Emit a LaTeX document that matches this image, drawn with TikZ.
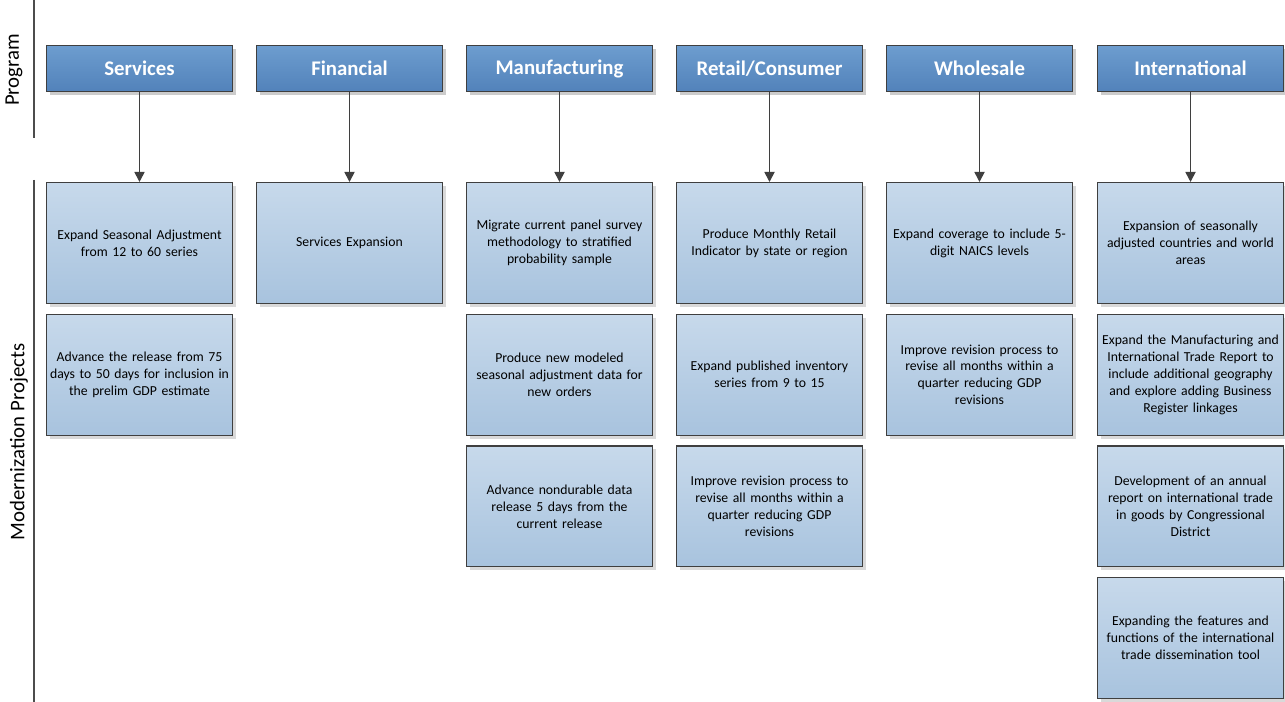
\documentclass[tikz,border=0pt]{standalone}
\usepackage{fontspec}
\setmainfont{Carlito}
\usetikzlibrary{positioning,arrows.meta,shadows}
\definecolor{hdtop}{HTML}{6D9DCF}
\definecolor{hdbot}{HTML}{5282BA}
\definecolor{pjtop}{HTML}{C7D9EB}
\definecolor{pjbot}{HTML}{A8C3DE}
\definecolor{edge}{HTML}{3F3F3F}
\tikzset{
  program/.style={draw=edge, line width=0.8pt, top color=hdtop, bottom color=hdbot,
    minimum width=139.5pt, minimum height=34.5pt, inner sep=0pt,
    text=white, font=\fontsize{15.6}{18}\selectfont\bfseries,
    drop shadow={shadow xshift=2.5pt, shadow yshift=-2.5pt, fill=black!20, opacity=1}},
  project/.style={draw=edge, line width=0.8pt, top color=pjtop, bottom color=pjbot,
    minimum width=139.5pt, minimum height=90.7pt, inner sep=0pt,
    text width=139pt, align=center, font=\fontsize{10.3}{12.7}\selectfont,
    drop shadow={shadow xshift=2.5pt, shadow yshift=-2.5pt, fill=black!15, opacity=1}},
  link/.style={draw=edge, line width=1.3pt, -{Triangle[length=7.5pt,width=7.5pt]}},
  lane/.style={draw=black!70, line width=0.8pt},
  lanelabel/.style={rotate=90, font=\fontsize{15.6}{18}\selectfont}
}
\begin{document}
\begin{tikzpicture}[x=0.75pt, y=-0.75pt, node distance=7.3pt]
  \useasboundingbox (0,0) rectangle (1285,702);
  % Lane separators
  \draw[lane] (34,0) -- (34,138);
  \draw[lane] (34,180) -- (34,702);
  \node[lanelabel] (lprog) at (14,70) {Program};
  \node[lanelabel] (lproj) at (19,442) {Modernization Projects};
  % Programs
  \node[program] (serv) at (139.5,68.5) {Services};
  \node[program] (fin) at (349.5,68.5) {Financial};
  \node[program] (manu) at (559.5,68.5) {Manufacturing};
  \node[program] (ret) at (769.5,68.5) {Retail/Consumer};
  \node[program] (whol) at (979.5,68.5) {Wholesale};
  \node[program] (intl) at (1190.5,68.5) {International};
  % Services projects
  \node[project] (serv1) at (139.5,243) {Expand Seasonal Adjustment\\from 12 to 60 series};
  \node[project, below=of serv1] (serv2) {Advance the release from 75\\days to 50 days for inclusion in\\the prelim GDP estimate};
  % Financial projects
  \node[project] (fin1) at (349.5,243) {Services Expansion};
  % Manufacturing projects
  \node[project] (manu1) at (559.5,243) {Migrate current panel survey\\methodology to stratified\\probability sample};
  \node[project, below=of manu1] (manu2) {Produce new modeled\\seasonal adjustment data for\\new orders};
  \node[project, below=of manu2] (manu3) {Advance nondurable data\\release 5 days from the\\current release};
  % Retail/Consumer projects
  \node[project] (ret1) at (769.5,243) {Produce Monthly Retail\\Indicator by state or region};
  \node[project, below=of ret1] (ret2) {Expand published inventory\\series from 9 to 15};
  \node[project, below=of ret2] (ret3) {Improve revision process to\\revise all months within a\\quarter reducing GDP\\revisions};
  % Wholesale projects
  \node[project] (whol1) at (979.5,243) {Expand coverage to include 5-\\digit NAICS levels};
  \node[project, below=of whol1] (whol2) {Improve revision process to\\revise all months within a\\quarter reducing GDP\\revisions};
  % International projects
  \node[project] (intl1) at (1190.5,243) {Expansion of seasonally\\adjusted countries and world\\areas};
  \node[project, below=of intl1] (intl2) {Expand the Manufacturing and\\International Trade Report to\\include additional geography\\and explore adding Business\\Register linkages};
  \node[project, below=of intl2] (intl3) {Development of an annual\\report on international trade\\in goods by Congressional\\District};
  \node[project, below=of intl3] (intl4) {Expanding the features and\\functions of the international\\trade dissemination tool};
  % Links
  \draw[link] (serv) -- (serv1);
  \draw[link] (fin) -- (fin1);
  \draw[link] (manu) -- (manu1);
  \draw[link] (ret) -- (ret1);
  \draw[link] (whol) -- (whol1);
  \draw[link] (intl) -- (intl1);
\end{tikzpicture}
\end{document}
